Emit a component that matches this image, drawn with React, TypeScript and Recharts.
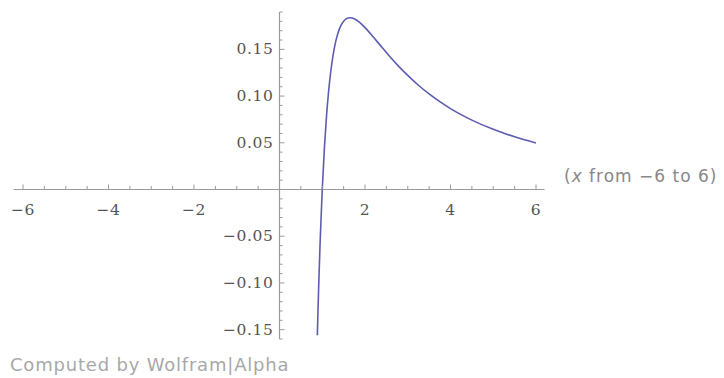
import { LineChart, Line, XAxis, YAxis, ReferenceLine } from "recharts";

// values (x from -6 to 6)
const xs = [0.885, 0.9, 0.92, 0.95, 1.0, 1.05, 1.1, 1.15, 1.2, 1.25, 1.3, 1.35, 1.4, 1.45, 1.5, 1.6, 1.65, 1.7, 1.8, 1.9, 2.0, 2.2, 2.4, 2.6, 2.8, 3.0, 3.25, 3.5, 3.75, 4.0, 4.5, 5.0, 5.5, 6.0];
const ys = [-0.156, -0.13, -0.0985, -0.0568, 0, 0.0443, 0.0788, 0.1057, 0.1266, 0.1428, 0.1553, 0.1647, 0.1717, 0.1767, 0.1802, 0.1836, 0.1839, 0.1836, 0.1814, 0.1778, 0.1733, 0.1629, 0.152, 0.1413, 0.1313, 0.1221, 0.1116, 0.1023, 0.094, 0.0866, 0.0743, 0.0644, 0.0564, 0.0498];

const xTicks = [-6, -5.5, -5, -4.5, -4, -3.5, -3, -2.5, -2, -1.5, -1, -0.5, 0.5, 1, 1.5, 2, 2.5, 3, 3.5, 4, 4.5, 5, 5.5, 6];
const xLabels = [-6, -4, -2, 2, 4, 6];
const yTicks = [-0.16, -0.15, -0.14, -0.13, -0.12, -0.11, -0.1, -0.09, -0.08, -0.07, -0.06, -0.05, -0.04, -0.03, -0.02, -0.01, 0.01, 0.02, 0.03, 0.04, 0.05, 0.06, 0.07, 0.08, 0.09, 0.1, 0.11, 0.12, 0.13, 0.14, 0.15, 0.16, 0.17, 0.18, 0.19];
const yLabels = [-0.15, -0.1, -0.05, 0.05, 0.1, 0.15];

const data = xs.map((x, i) => ({ x, y: ys[i] }));

const W = 724;
const H = 378;
const AX_W = 1;
const AX_H = 1;
const margin = { top: 12, right: 188, left: 23 - AX_W, bottom: 39 - AX_H };
const X_DOMAIN = [-6, 6];
const Y_DOMAIN = [-0.16, 0.19];
const plotLeft = margin.left + AX_W;
const plotW = W - plotLeft - margin.right;
const plotH = H - margin.top - margin.bottom - AX_H;
const zeroX = plotLeft + ((0 - X_DOMAIN[0]) / (X_DOMAIN[1] - X_DOMAIN[0])) * plotW;
const zeroY = margin.top + (Y_DOMAIN[1] / (Y_DOMAIN[1] - Y_DOMAIN[0])) * plotH;

const AXIS = "#9a9a9a";
const LABEL = "#555";
const fmtMinus = (s: string) => s.replace("-", "\u2212");

const near = (a: number, b: number) => Math.abs(a - b) < 1e-6;

function renderXTick(props: any) {
  const { x, payload, index } = props;
  const v = payload.value as number;
  const major = xLabels.some((l) => near(l, v));
  return (
    <g key={`xt-${index}`}>
      <line x1={x} x2={x} y1={zeroY} y2={zeroY - (major ? 5 : 3.5)} stroke={AXIS} strokeWidth={1} />
      {major && (
        <text x={x} y={zeroY + 25} textAnchor="middle" fontFamily="'DejaVu Serif', serif" fontSize={15.5} letterSpacing={0.6} fill={LABEL}>
          {fmtMinus(String(v))}
        </text>
      )}
    </g>
  );
}

function renderYTick(props: any) {
  const { y, payload, index } = props;
  const v = payload.value as number;
  const major = yLabels.some((l) => near(l, v));
  return (
    <g key={`yt-${index}`}>
      <line x1={zeroX} x2={zeroX + (major ? 5 : 3)} y1={y} y2={y} stroke={AXIS} strokeWidth={1} />
      {major && (
        <text x={zeroX - 6} y={y + 5} textAnchor="end" fontFamily="'DejaVu Serif', serif" fontSize={15.5} letterSpacing={0.6} fill={LABEL}>
          {fmtMinus(v.toFixed(2))}
        </text>
      )}
    </g>
  );
}

export default function App() {
  return (
    <div style={{ position: "absolute", left: 0, top: 0, width: W, height: H, background: "#fff" }}>
      <LineChart width={W} height={H} data={data} margin={margin}>
        <XAxis
          dataKey="x"
          type="number"
          domain={X_DOMAIN}
          ticks={xTicks}
          interval={0}
          height={AX_H}
          axisLine={false}
          tickLine={false}
          tick={renderXTick}
        />
        <YAxis
          type="number"
          domain={Y_DOMAIN}
          ticks={yTicks}
          interval={0}
          width={AX_W}
          axisLine={false}
          tickLine={false}
          tick={renderYTick}
        />
        <ReferenceLine
          segment={[{ x: -6.22, y: 0 }, { x: 6.2, y: 0 }]}
          stroke={AXIS}
          strokeWidth={1.2}
          ifOverflow="visible"
        />
        <ReferenceLine x={0} stroke={AXIS} strokeWidth={1.2} ifOverflow="visible" />
        <Line
          dataKey="y"
          type="monotone"
          stroke="#5c5cb2"
          strokeWidth={1.6}
          dot={false}
          isAnimationActive={false}
        />
      </LineChart>
      <div
        style={{
          position: "absolute",
          left: 564,
          top: 166,
          fontFamily: "'DejaVu Sans', sans-serif",
          fontSize: 17,
          letterSpacing: 1,
          color: "#888",
          whiteSpace: "nowrap",
        }}
      >
        (<i>x</i> from {"\u2212"}6 to 6)
      </div>
      <div
        style={{
          position: "absolute",
          left: 10,
          top: 354,
          fontFamily: "'DejaVu Sans', sans-serif",
          fontSize: 18,
          letterSpacing: 0.8,
          color: "#a8a8a8",
          whiteSpace: "nowrap",
        }}
      >
        Computed by Wolfram|Alpha
      </div>
    </div>
  );
}
